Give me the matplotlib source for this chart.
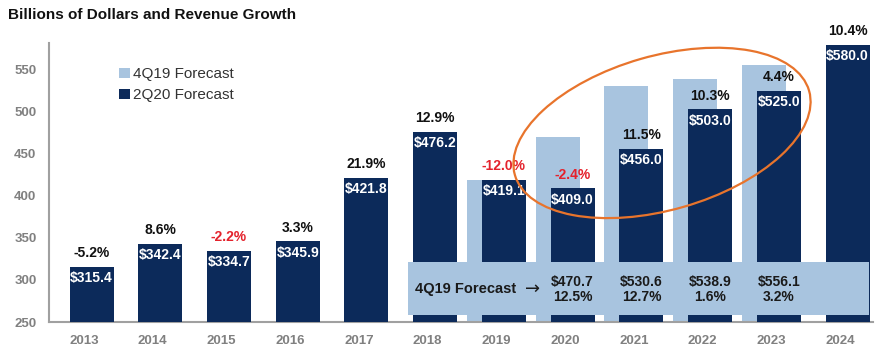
import matplotlib
matplotlib.use("Agg")
import matplotlib.pyplot as plt
import numpy as np
from matplotlib.patches import Ellipse, Rectangle
from matplotlib.transforms import ScaledTranslation

plt.rcParams["font.family"] = ["Liberation Sans", "DejaVu Sans"]

years = ["2013", "2014", "2015", "2016", "2017", "2018", "2019",
         "2020", "2021", "2022", "2023", "2024"]
q2_values = [315.4, 342.4, 334.7, 345.9, 421.8, 476.2, 419.1,
             409.0, 456.0, 503.0, 525.0, 580.0]
q2_growth = [-5.2, 8.6, -2.2, 3.3, 21.9, 12.9, -12.0,
             -2.4, 11.5, 10.3, 4.4, 10.4]
q4_years = ["2019", "2020", "2021", "2022", "2023"]
q4_values = [418.4, 470.7, 530.6, 538.9, 556.1]
q4_growth = [None, 12.5, 12.7, 1.6, 3.2]

dark = "#0c2a5a"
light = "#a8c4df"
red = "#e4222c"
grey = "#808080"

fig = plt.figure(figsize=(8.81, 3.52), dpi=100)
ax = fig.add_axes([0.0556, 0.0852, 0.9353, 0.7926])

x = np.arange(len(years))
xq4 = np.array([years.index(y) for y in q4_years])
w = 0.64
off = 0.11

ax.bar(xq4 - off, q4_values, w, color=light, zorder=2, label="4Q19 Forecast")
ax.bar(x + off, q2_values, w, color=dark, zorder=3, label="2Q20 Forecast")

for i, (xi, v, g) in enumerate(zip(x, q2_values, q2_growth)):
    ax.annotate(f"${v:.1f}", (xi + off, v), xytext=(0, -8),
                textcoords="offset points", ha="center", va="center",
                color="white", fontsize=10, fontweight="bold", zorder=6)
    # first year shows in dark text in the source
    col = red if (g < 0 and i > 0) else "#111111"
    ax.annotate(f"{g:.1f}%", (xi + off, v), xytext=(0, 10),
                textcoords="offset points", ha="center", va="center",
                color=col, fontsize=10, fontweight="bold", zorder=6)

# 4Q19 forecast band
ax.add_patch(Rectangle((4.72, 258.3), 6.7, 63.1, color=light, zorder=4,
                       linewidth=0))
ax.text(4.82, 289, "4Q19 Forecast", ha="left", va="center",
        fontsize=10.5, fontweight="bold", color="#1a1a1a", zorder=6)
ax.text(6.53, 289, "\u2192", ha="center", va="center", family="DejaVu Sans",
        fontsize=13, color="#1a1a1a", zorder=6)
for xi, v, g in zip(xq4, q4_values, q4_growth):
    if g is None:
        continue
    ax.text(xi + off, 289, f"${v:.1f}\n{g:.1f}%", ha="center", va="center",
            fontsize=10, fontweight="bold", color="#1a1a1a",
            linespacing=1.05, zorder=6)

# highlight ellipse
trans = fig.dpi_scale_trans + ScaledTranslation(8.41, 475, ax.transData)
ax.add_artist(Ellipse((0, 0), 3.06, 1.54, angle=16, fill=False,
                      edgecolor="#e8742c", linewidth=1.6, transform=trans,
                      zorder=7, clip_on=False))

ax.set_xlim(-0.51, 11.48)
ax.set_ylim(250, 582)
ax.set_yticks([250, 300, 350, 400, 450, 500, 550])
ax.set_xticks(x)
ax.set_xticklabels(years)
ax.tick_params(length=0, colors=grey, labelsize=9.5)
ax.tick_params(axis="x", pad=9)
ax.tick_params(axis="y", pad=9)
for lab in ax.get_xticklabels() + ax.get_yticklabels():
    lab.set_fontweight("bold")
for s in ["top", "right"]:
    ax.spines[s].set_visible(False)
for s in ["left", "bottom"]:
    ax.spines[s].set_color("#a0a0a0")
    ax.spines[s].set_linewidth(1.5)

ax.legend(loc="upper left", bbox_to_anchor=(0.076, 0.94), frameon=False,
          fontsize=11, handlelength=0.7, handleheight=0.7,
          handletextpad=0.2, labelspacing=0.45, borderpad=0,
          labelcolor="#333333")

fig.text(0.009, 0.957, "Billions of Dollars and Revenue Growth",
         fontsize=11, fontweight="bold", va="center", color="#111111")

fig.savefig("out.png", dpi=100)
